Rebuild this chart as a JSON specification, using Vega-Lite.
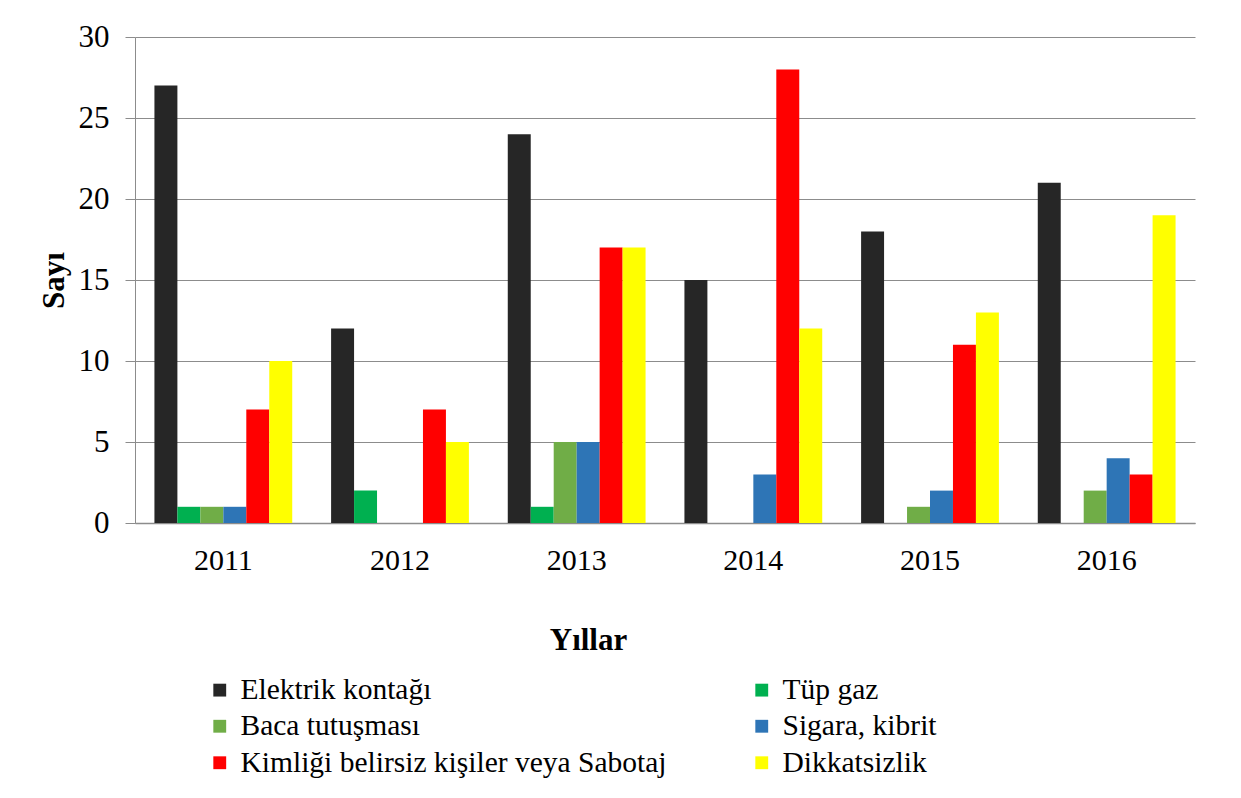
{
  "$schema": "https://vega.github.io/schema/vega-lite/v6.json",
  "width": 1060,
  "height": 486,
  "autosize": {"type": "none"},
  "padding": {"left": 135, "top": 37, "right": 46, "bottom": 275},
  "background": "white",
  "config": {
    "font": "Liberation Serif",
    "view": {"stroke": null},
    "axis": {"labelFont": "Liberation Serif", "titleFont": "Liberation Serif", "labelColor": "black", "titleColor": "black"},
    "legend": {"labelFont": "Liberation Serif", "labelColor": "black"}
  },
  "data": {
    "values": [
      {"yil": "2011", "neden": "Elektrik kontağı", "sayi": 27},
      {"yil": "2011", "neden": "Tüp gaz", "sayi": 1},
      {"yil": "2011", "neden": "Baca tutuşması", "sayi": 1},
      {"yil": "2011", "neden": "Sigara, kibrit", "sayi": 1},
      {"yil": "2011", "neden": "Kimliği belirsiz kişiler veya Sabotaj", "sayi": 7},
      {"yil": "2011", "neden": "Dikkatsizlik", "sayi": 10},
      {"yil": "2012", "neden": "Elektrik kontağı", "sayi": 12},
      {"yil": "2012", "neden": "Tüp gaz", "sayi": 2},
      {"yil": "2012", "neden": "Baca tutuşması", "sayi": 0},
      {"yil": "2012", "neden": "Sigara, kibrit", "sayi": 0},
      {"yil": "2012", "neden": "Kimliği belirsiz kişiler veya Sabotaj", "sayi": 7},
      {"yil": "2012", "neden": "Dikkatsizlik", "sayi": 5},
      {"yil": "2013", "neden": "Elektrik kontağı", "sayi": 24},
      {"yil": "2013", "neden": "Tüp gaz", "sayi": 1},
      {"yil": "2013", "neden": "Baca tutuşması", "sayi": 5},
      {"yil": "2013", "neden": "Sigara, kibrit", "sayi": 5},
      {"yil": "2013", "neden": "Kimliği belirsiz kişiler veya Sabotaj", "sayi": 17},
      {"yil": "2013", "neden": "Dikkatsizlik", "sayi": 17},
      {"yil": "2014", "neden": "Elektrik kontağı", "sayi": 15},
      {"yil": "2014", "neden": "Tüp gaz", "sayi": 0},
      {"yil": "2014", "neden": "Baca tutuşması", "sayi": 0},
      {"yil": "2014", "neden": "Sigara, kibrit", "sayi": 3},
      {"yil": "2014", "neden": "Kimliği belirsiz kişiler veya Sabotaj", "sayi": 28},
      {"yil": "2014", "neden": "Dikkatsizlik", "sayi": 12},
      {"yil": "2015", "neden": "Elektrik kontağı", "sayi": 18},
      {"yil": "2015", "neden": "Tüp gaz", "sayi": 0},
      {"yil": "2015", "neden": "Baca tutuşması", "sayi": 1},
      {"yil": "2015", "neden": "Sigara, kibrit", "sayi": 2},
      {"yil": "2015", "neden": "Kimliği belirsiz kişiler veya Sabotaj", "sayi": 11},
      {"yil": "2015", "neden": "Dikkatsizlik", "sayi": 13},
      {"yil": "2016", "neden": "Elektrik kontağı", "sayi": 21},
      {"yil": "2016", "neden": "Tüp gaz", "sayi": 0},
      {"yil": "2016", "neden": "Baca tutuşması", "sayi": 2},
      {"yil": "2016", "neden": "Sigara, kibrit", "sayi": 4},
      {"yil": "2016", "neden": "Kimliği belirsiz kişiler veya Sabotaj", "sayi": 3},
      {"yil": "2016", "neden": "Dikkatsizlik", "sayi": 19}
    ]
  },
  "mark": {"type": "bar"},
  "encoding": {
    "x": {
      "field": "yil", "type": "nominal",
      "scale": {"paddingInner": 0.22, "paddingOuter": 0.11},
      "axis": {
        "title": "Yıllar", "labelAngle": 0, "labelFontSize": 30, "labelPadding": 22,
        "ticks": false, "domainColor": "#8c8c8c", "domainWidth": 1.5,
        "titleFontSize": 31, "titleFontWeight": "bold", "titlePadding": 50, "titleX": 453
      }
    },
    "xOffset": {
      "field": "neden", "type": "nominal",
      "sort": ["Elektrik kontağı", "Tüp gaz", "Baca tutuşması", "Sigara, kibrit", "Kimliği belirsiz kişiler veya Sabotaj", "Dikkatsizlik"],
      "scale": {"paddingInner": 0, "paddingOuter": 0}
    },
    "y": {
      "field": "sayi", "type": "quantitative",
      "scale": {"domain": [0, 30]},
      "axis": {
        "title": "Sayı", "values": [0, 5, 10, 15, 20, 25, 30],
        "labelFontSize": 31, "labelPadding": 16, "tickSize": 10, "tickColor": "#8c8c8c",
        "domainColor": "#8c8c8c", "gridColor": "#8c8c8c", "gridWidth": 1,
        "titleFontSize": 31, "titleFontWeight": "bold", "titlePadding": 8
      }
    },
    "color": {
      "field": "neden", "type": "nominal",
      "sort": ["Elektrik kontağı", "Tüp gaz", "Baca tutuşması", "Sigara, kibrit", "Kimliği belirsiz kişiler veya Sabotaj", "Dikkatsizlik"],
      "scale": {
        "domain": ["Elektrik kontağı", "Tüp gaz", "Baca tutuşması", "Sigara, kibrit", "Kimliği belirsiz kişiler veya Sabotaj", "Dikkatsizlik"],
        "range": ["#262626", "#00b050", "#70ad47", "#2e75b6", "#ff0000", "#ffff00"]
      },
      "legend": {
        "title": null, "orient": "none", "legendX": 70, "legendY": 638,
        "direction": "horizontal", "columns": 2, "columnPadding": 80, "rowPadding": 5.5,
        "symbolType": "square", "symbolSize": 165, "symbolStrokeWidth": 0,
        "labelFontSize": 29.5, "labelFont": "Liberation Serif", "labelColor": "black", "labelLimit": 600, "labelOffset": 6
      }
    }
  }
}
